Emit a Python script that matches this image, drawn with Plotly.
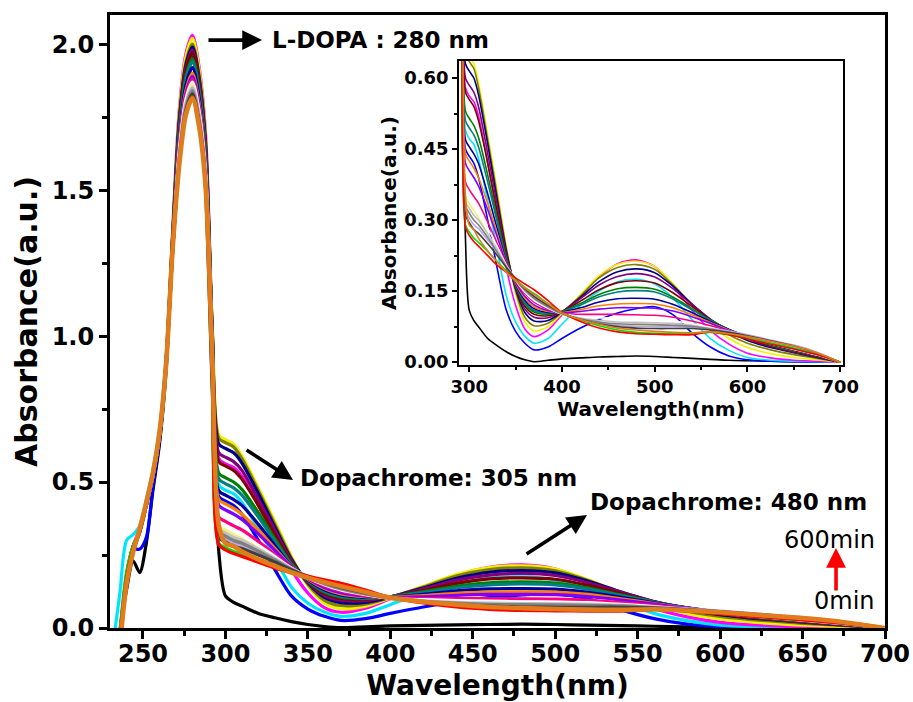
import plotly.graph_objects as go

# ---------------- data ----------------
wavelength = [232, 236, 240, 244, 248, 252, 256, 260, 264, 268, 272, 276, 280, 284, 288, 292, 296, 300,
              305, 310, 320, 330, 340, 350, 360, 370, 385, 400, 420, 440, 460, 480, 500, 520, 540, 560,
              580, 600, 625, 650, 675, 700]

abs_black = [-0.20, -0.01, 0.13, 0.23, 0.19, 0.29, 0.47, 0.63, 0.88, 1.30, 1.70, 1.88, 1.95, 1.84, 1.50, 0.82, 0.26, 0.11,
             0.088, 0.075, 0.050, 0.035, 0.022, 0.012, 0.005, 0.001, 0.004, 0.007, 0.009, 0.011, 0.012, 0.013, 0.012,
             0.010, 0.008, 0.006, 0.004, 0.003, 0.002, 0.001, 0.001, 0.0]
abs_blue = [-0.22, -0.02, 0.16, 0.27, 0.27, 0.31, 0.48, 0.64, 0.89, 1.32, 1.712, 1.898, 1.96, 1.857, 1.63, 0.98, 0.45, 0.435,
            0.42, 0.39, 0.30, 0.20, 0.11, 0.065, 0.040, 0.026, 0.032, 0.050, 0.072, 0.090, 0.104, 0.113, 0.117, 0.100,
            0.062, 0.032, 0.013, 0.005, 0.002, 0.001, 0.0, 0.0]
abs_cyan = [-0.05, 0.12, 0.30, 0.32, 0.35, 0.44, 0.54, 0.68, 0.93, 1.34, 1.721, 1.908, 1.97, 1.866, 1.638, 0.98, 0.49, 0.472,
            0.46, 0.43, 0.34, 0.24, 0.14, 0.085, 0.055, 0.040, 0.050, 0.080, 0.120, 0.150, 0.170, 0.175, 0.165, 0.135,
            0.090, 0.050, 0.025, 0.010, 0.004, 0.002, 0.001, 0.0]
abs_magenta = [-0.25, -0.03, 0.17, 0.28, 0.34, 0.43, 0.53, 0.67, 0.92, 1.36, 1.774, 1.966, 2.03, 1.923, 1.688, 1.02, 0.58, 0.562,
               0.55, 0.52, 0.42, 0.31, 0.20, 0.12, 0.070, 0.054, 0.068, 0.100, 0.140, 0.180, 0.208, 0.216, 0.202, 0.160,
               0.110, 0.067, 0.038, 0.019, 0.009, 0.004, 0.002, 0.0]
abs_yellow = [-0.26, -0.04, 0.16, 0.27, 0.34, 0.43, 0.53, 0.67, 0.92, 1.36, 1.765, 1.956, 2.02, 1.914, 1.68, 1.04, 0.66, 0.645,
              0.63, 0.59, 0.48, 0.365, 0.245, 0.145, 0.085, 0.066, 0.075, 0.103, 0.143, 0.183, 0.207, 0.213, 0.202, 0.165,
              0.120, 0.080, 0.050, 0.031, 0.018, 0.010, 0.005, 0.0]
abs_olive = [-0.24, -0.02, 0.17, 0.27, 0.33, 0.43, 0.53, 0.67, 0.91, 1.35, 1.747, 1.937, 2.00, 1.895, 1.663, 1.03, 0.65, 0.635,
             0.62, 0.58, 0.47, 0.355, 0.24, 0.15, 0.095, 0.077, 0.082, 0.105, 0.140, 0.178, 0.200, 0.206, 0.196, 0.163,
             0.122, 0.085, 0.058, 0.040, 0.026, 0.016, 0.008, 0.0]
abs_navy = [-0.25, -0.03, 0.17, 0.27, 0.33, 0.42, 0.53, 0.67, 0.91, 1.34, 1.739, 1.927, 1.99, 1.885, 1.655, 1.02, 0.63, 0.615,
            0.60, 0.565, 0.46, 0.345, 0.235, 0.155, 0.105, 0.087, 0.088, 0.106, 0.137, 0.170, 0.191, 0.197, 0.189, 0.160,
            0.123, 0.090, 0.064, 0.046, 0.031, 0.020, 0.010, 0.0]
abs_purple = [-0.25, -0.03, 0.18, 0.28, 0.33, 0.42, 0.52, 0.66, 0.91, 1.34, 1.730, 1.918, 1.98, 1.876, 1.647, 1.01, 0.60, 0.585,
              0.57, 0.54, 0.44, 0.335, 0.23, 0.158, 0.112, 0.095, 0.094, 0.107, 0.134, 0.163, 0.181, 0.187, 0.180, 0.155,
              0.122, 0.091, 0.067, 0.049, 0.033, 0.021, 0.011, 0.0]
abs_wine = [-0.25, -0.03, 0.17, 0.27, 0.33, 0.42, 0.52, 0.66, 0.90, 1.33, 1.721, 1.908, 1.97, 1.866, 1.638, 1.00, 0.57, 0.555,
            0.54, 0.51, 0.42, 0.32, 0.225, 0.16, 0.118, 0.101, 0.098, 0.107, 0.129, 0.153, 0.168, 0.172, 0.167, 0.146,
            0.118, 0.090, 0.068, 0.050, 0.034, 0.022, 0.012, 0.0]
abs_green = [-0.24, -0.02, 0.18, 0.28, 0.33, 0.42, 0.52, 0.66, 0.90, 1.32, 1.704, 1.888, 1.95, 1.847, 1.622, 0.99, 0.53, 0.515,
             0.50, 0.475, 0.395, 0.305, 0.22, 0.162, 0.123, 0.106, 0.101, 0.107, 0.124, 0.143, 0.155, 0.158, 0.154, 0.137,
             0.113, 0.089, 0.069, 0.052, 0.036, 0.024, 0.013, 0.0]
abs_darkcyan = [-0.25, -0.03, 0.17, 0.27, 0.33, 0.42, 0.52, 0.66, 0.90, 1.32, 1.695, 1.879, 1.94, 1.838, 1.613, 0.99, 0.51, 0.495,
                0.48, 0.455, 0.38, 0.297, 0.216, 0.163, 0.126, 0.109, 0.103, 0.107, 0.121, 0.138, 0.148, 0.151, 0.148, 0.133,
                0.111, 0.088, 0.069, 0.053, 0.037, 0.025, 0.014, 0.0]
abs_royal = [-0.25, -0.03, 0.16, 0.26, 0.33, 0.42, 0.52, 0.66, 0.90, 1.31, 1.677, 1.859, 1.92, 1.819, 1.597, 0.98, 0.47, 0.455,
             0.44, 0.42, 0.355, 0.283, 0.212, 0.165, 0.131, 0.113, 0.105, 0.106, 0.115, 0.127, 0.134, 0.135, 0.133, 0.122,
             0.105, 0.086, 0.069, 0.054, 0.038, 0.026, 0.014, 0.0]
abs_orange = [-0.25, -0.03, 0.17, 0.27, 0.33, 0.42, 0.52, 0.66, 0.90, 1.30, 1.660, 1.840, 1.90, 1.800, 1.580, 0.97, 0.44, 0.425,
              0.41, 0.39, 0.335, 0.273, 0.21, 0.167, 0.135, 0.117, 0.107, 0.105, 0.111, 0.119, 0.123, 0.124, 0.123, 0.115,
              0.100, 0.084, 0.068, 0.054, 0.039, 0.027, 0.015, 0.0]
abs_violet = [-0.25, -0.03, 0.17, 0.27, 0.33, 0.42, 0.52, 0.66, 0.90, 1.30, 1.651, 1.830, 1.89, 1.790, 1.572, 0.96, 0.42, 0.405,
              0.39, 0.372, 0.322, 0.266, 0.209, 0.169, 0.139, 0.121, 0.109, 0.104, 0.107, 0.112, 0.115, 0.115, 0.114, 0.108,
              0.096, 0.082, 0.067, 0.054, 0.039, 0.027, 0.015, 0.0]
abs_pink = [-0.25, -0.03, 0.17, 0.27, 0.33, 0.42, 0.52, 0.66, 0.90, 1.29, 1.643, 1.821, 1.88, 1.781, 1.563, 0.95, 0.38, 0.365,
            0.35, 0.336, 0.296, 0.252, 0.207, 0.172, 0.145, 0.127, 0.112, 0.103, 0.101, 0.101, 0.101, 0.100, 0.099, 0.095,
            0.087, 0.077, 0.065, 0.053, 0.039, 0.027, 0.015, 0.0]
abs_white = [-0.25, -0.03, 0.17, 0.27, 0.33, 0.42, 0.52, 0.66, 0.90, 1.29, 1.634, 1.811, 1.87, 1.772, 1.555, 0.94, 0.36, 0.345,
             0.33, 0.318, 0.283, 0.245, 0.205, 0.173, 0.148, 0.130, 0.114, 0.102, 0.097, 0.094, 0.092, 0.090, 0.089, 0.087,
             0.081, 0.073, 0.063, 0.052, 0.039, 0.027, 0.015, 0.0]
abs_ltyellow = [-0.25, -0.03, 0.17, 0.27, 0.33, 0.42, 0.52, 0.66, 0.90, 1.29, 1.625, 1.801, 1.86, 1.762, 1.547, 0.94, 0.35, 0.335,
                0.32, 0.305, 0.272, 0.238, 0.204, 0.175, 0.152, 0.134, 0.116, 0.101, 0.089, 0.083, 0.079, 0.078, 0.077, 0.076,
                0.074, 0.069, 0.061, 0.051, 0.039, 0.028, 0.016, 0.0]
abs_ltgray = [-0.25, -0.03, 0.17, 0.27, 0.33, 0.42, 0.52, 0.66, 0.90, 1.29, 1.616, 1.792, 1.85, 1.753, 1.538, 0.93, 0.34, 0.325,
              0.31, 0.30, 0.27, 0.238, 0.203, 0.174, 0.151, 0.133, 0.116, 0.102, 0.093, 0.088, 0.085, 0.084, 0.083, 0.082,
              0.078, 0.071, 0.062, 0.052, 0.039, 0.028, 0.016, 0.0]
abs_lavender = [-0.25, -0.03, 0.17, 0.27, 0.33, 0.42, 0.52, 0.66, 0.90, 1.29, 1.616, 1.792, 1.85, 1.753, 1.538, 0.93, 0.32, 0.305,
                0.29, 0.282, 0.258, 0.232, 0.203, 0.177, 0.155, 0.138, 0.119, 0.103, 0.091, 0.083, 0.078, 0.076, 0.075, 0.075,
                0.074, 0.071, 0.066, 0.058, 0.047, 0.036, 0.021, 0.0]
abs_gray = [-0.25, -0.03, 0.17, 0.27, 0.33, 0.42, 0.52, 0.66, 0.90, 1.29, 1.608, 1.782, 1.84, 1.743, 1.530, 0.93, 0.33, 0.315,
            0.30, 0.29, 0.263, 0.233, 0.201, 0.174, 0.152, 0.135, 0.117, 0.102, 0.091, 0.085, 0.081, 0.080, 0.079, 0.078,
            0.076, 0.070, 0.062, 0.052, 0.040, 0.029, 0.016, 0.0]
abs_darkgray = [-0.25, -0.03, 0.17, 0.27, 0.33, 0.42, 0.52, 0.66, 0.90, 1.29, 1.599, 1.772, 1.83, 1.734, 1.522, 0.92, 0.31, 0.295,
                0.28, 0.272, 0.25, 0.226, 0.20, 0.176, 0.155, 0.139, 0.12, 0.104, 0.090, 0.081, 0.075, 0.072, 0.071, 0.071,
                0.071, 0.068, 0.063, 0.056, 0.045, 0.034, 0.019, 0.0]
abs_brightgreen = [-0.22, -0.01, 0.19, 0.28, 0.33, 0.42, 0.52, 0.66, 0.90, 1.29, 1.590, 1.763, 1.82, 1.724, 1.513, 0.91, 0.29, 0.275,
                   0.262, 0.253, 0.234, 0.213, 0.193, 0.175, 0.158, 0.145, 0.124, 0.105, 0.089, 0.077, 0.068, 0.063, 0.061,
                   0.060, 0.060, 0.063, 0.058, 0.050, 0.040, 0.030, 0.017, 0.0]
abs_red = [-0.25, -0.03, 0.17, 0.27, 0.33, 0.42, 0.52, 0.66, 0.90, 1.29, 1.590, 1.763, 1.82, 1.724, 1.513, 0.91, 0.285, 0.268,
           0.255, 0.245, 0.225, 0.205, 0.19, 0.178, 0.165, 0.153, 0.13, 0.105, 0.086, 0.072, 0.064, 0.060, 0.059, 0.058,
           0.058, 0.064, 0.058, 0.049, 0.038, 0.028, 0.016, 0.0]
abs_orange_last = [-0.30, -0.06, 0.15, 0.26, 0.34, 0.43, 0.53, 0.67, 0.90, 1.30, 1.586, 1.758, 1.815, 1.719, 1.509, 0.92, 0.35, 0.29,
                   0.28, 0.262, 0.235, 0.212, 0.19, 0.172, 0.157, 0.143, 0.123, 0.104, 0.090, 0.080, 0.072, 0.068, 0.065,
                   0.063, 0.062, 0.064, 0.060, 0.054, 0.044, 0.034, 0.020, 0.0]

series = [
    (abs_black, "#000000"), (abs_blue, "#0000FF"), (abs_cyan, "#00E5FF"), (abs_magenta, "#FF00FF"),
    (abs_yellow, "#F2F200"), (abs_olive, "#808000"), (abs_navy, "#000080"), (abs_purple, "#800080"),
    (abs_wine, "#800000"), (abs_green, "#008000"), (abs_darkcyan, "#008080"), (abs_royal, "#0000A0"),
    (abs_orange, "#FF8000"), (abs_violet, "#8000FF"), (abs_pink, "#FF0080"), (abs_white, "#FFFFFF"),
    (abs_ltyellow, "#F0F080"), (abs_ltgray, "#C0C0C0"), (abs_lavender, "#B8A8E8"), (abs_gray, "#808080"),
    (abs_darkgray, "#404040"), (abs_brightgreen, "#00E000"), (abs_red, "#FF0000"), (abs_orange_last, "#E07C1C"),
]
for vals, _ in series:
    assert len(vals) == len(wavelength)

FONT = "DejaVu Sans"

fig = go.Figure()
for i, (vals, color) in enumerate(series):
    wmain = 4.6 if i == len(series) - 1 else 3.2
    fig.add_trace(go.Scatter(x=wavelength, y=vals, mode="lines", xaxis="x", yaxis="y",
                             line=dict(color=color, width=wmain, shape="spline", smoothing=0.8),
                             hoverinfo="skip"))
for i, (vals, color) in enumerate(series):
    fig.add_trace(go.Scatter(x=wavelength, y=vals, mode="lines", xaxis="x2", yaxis="y2",
                             line=dict(color=color, width=1.6, shape="spline", smoothing=0.8),
                             hoverinfo="skip"))

big_tick = dict(family=FONT, size=24, color="black", weight="bold")
small_tick = dict(family=FONT, size=18, color="black", weight="bold")

fig.update_layout(
    width=913, height=702,
    margin=dict(l=110, r=28, t=15, b=74),
    paper_bgcolor="white", plot_bgcolor="white",
    showlegend=False,
    xaxis=dict(domain=[0, 1], anchor="y", range=[230, 700], tick0=250, dtick=50, automargin=False,
               ticks="outside", ticklen=8, tickwidth=2.5, tickcolor="black", ticklabelstandoff=-6,
               linecolor="black", linewidth=3, mirror=True, showgrid=False, zeroline=False,
               tickfont=big_tick,
               minor=dict(ticks="outside", ticklen=5, tickwidth=2.5, tickcolor="black", tick0=250, dtick=25, showgrid=False),
               title=dict(text="Wavelength(nm)", font=dict(family=FONT, size=28, color="black", weight="bold"), standoff=12)),
    yaxis=dict(domain=[0, 1], anchor="x", range=[0, 2.1], tick0=0, dtick=0.5, tickformat=".1f", automargin=False,
               ticks="outside", ticklen=8, tickwidth=2.5, tickcolor="black",
               linecolor="black", linewidth=3, mirror=True, showgrid=False, zeroline=False,
               tickfont=big_tick,
               minor=dict(ticks="outside", ticklen=5, tickwidth=2.5, tickcolor="black", tick0=0, dtick=0.25, showgrid=False),
               title=dict(text="Absorbance(a.u.)", font=dict(family=FONT, size=30, color="black", weight="bold"), standoff=6)),
    xaxis2=dict(domain=[0.4503, 0.9458], anchor="y2", range=[289, 703], tick0=300, dtick=100, automargin=False,
                ticks="outside", ticklen=5, tickwidth=1.5, tickcolor="black",
                linecolor="black", linewidth=1.5, mirror=True, showgrid=False, zeroline=False,
                tickfont=small_tick,
                minor=dict(ticks="outside", ticklen=3, tickwidth=1.5, tickcolor="black", tick0=300, dtick=50, showgrid=False),
                title=dict(text="Wavelength(nm)", font=dict(family=FONT, size=20, color="black", weight="bold"), standoff=2)),
    yaxis2=dict(domain=[0.429, 0.925], anchor="x2", range=[-0.006, 0.636], tick0=0, dtick=0.15, tickformat=".2f", automargin=False,
                ticks="outside", ticklen=5, tickwidth=1.5, tickcolor="black",
                linecolor="black", linewidth=1.5, mirror=True, showgrid=False, zeroline=False,
                tickfont=small_tick,
                minor=dict(ticks="outside", ticklen=3, tickwidth=1.5, tickcolor="black", tick0=0, dtick=0.075, showgrid=False),
                title=dict(text="Absorbance(a.u.)", font=dict(family=FONT, size=20, color="black", weight="bold"), standoff=2)),
)

ann_font = dict(family=FONT, size=23, color="black", weight="bold")
time_font = dict(family=FONT, size=24, color="black")
annotations = [
    dict(x=322.2, y=2.014, ax=288.8, ay=2.014, xref="x", yref="y", axref="x", ayref="y", text="",
         showarrow=True, arrowhead=2, arrowsize=1.1, arrowwidth=3.6, arrowcolor="black", standoff=0),
    dict(x=341.0, y=0.507, ax=311.9, ay=0.613, xref="x", yref="y", axref="x", ayref="y", text="",
         showarrow=True, arrowhead=2, arrowsize=1.1, arrowwidth=3.6, arrowcolor="black", standoff=0),
    dict(x=519.3, y=0.387, ax=481.7, ay=0.25, xref="x", yref="y", axref="x", ayref="y", text="",
         showarrow=True, arrowhead=2, arrowsize=1.1, arrowwidth=3.6, arrowcolor="black", standoff=0),
    dict(x=670.3, y=0.274, ax=670.3, ay=0.123, xref="x", yref="y", axref="x", ayref="y", text="",
         showarrow=True, arrowhead=2, arrowsize=1.1, arrowwidth=3.6, arrowcolor="#FF0000", standoff=0),
    dict(x=327, y=2.014, xref="x", yref="y", text="L-DOPA : 280 nm", showarrow=False,
         xanchor="left", yanchor="middle", font=ann_font),
    dict(x=344, y=0.514, xref="x", yref="y", text="Dopachrome: 305 nm", showarrow=False,
         xanchor="left", yanchor="middle", font=ann_font),
    dict(x=519.9, y=0.432, xref="x", yref="y", text="Dopachrome: 480 nm", showarrow=False,
         xanchor="left", yanchor="middle", font=ann_font),
    dict(x=637.5, y=0.301, xref="x", yref="y", text="600min", showarrow=False,
         xanchor="left", yanchor="middle", font=time_font),
    dict(x=655.7, y=0.092, xref="x", yref="y", text="0min", showarrow=False,
         xanchor="left", yanchor="middle", font=time_font),
]
fig.update_layout(annotations=annotations)

fig.write_html("out.html")
